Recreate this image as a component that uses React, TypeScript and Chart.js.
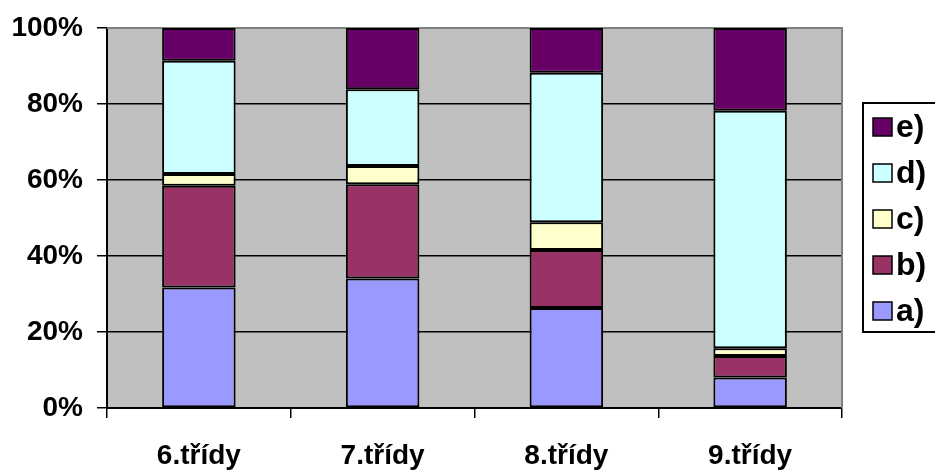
import React, { useEffect, useRef } from "react";
import { Chart, registerables } from "chart.js";

Chart.register(...registerables);

const categories = ["6.třídy", "7.třídy", "8.třídy", "9.třídy"];
const seriesLabels = ["a)", "b)", "c)", "d)", "e)"];
const valuesA = [31.7, 34.1, 26.3, 8.0];
const valuesB = [26.8, 24.8, 15.3, 5.7];
const valuesC = [3.1, 4.8, 7.3, 2.0];
const valuesD = [29.8, 20.2, 39.3, 62.5];
const valuesE = [8.6, 16.1, 11.8, 21.8];
const seriesColors = ["#9999FF", "#993366", "#FFFFCC", "#CCFFFF", "#660066"];
const yTicks = [0, 20, 40, 60, 80, 100];

const FONT = "'Liberation Sans', Arial, sans-serif";

const plotBg = {
  id: "plotBg",
  beforeDraw(chart: any) {
    const { ctx, chartArea } = chart;
    ctx.save();
    ctx.fillStyle = "#C0C0C0";
    ctx.fillRect(chartArea.left, chartArea.top, chartArea.right - chartArea.left, chartArea.bottom - chartArea.top);
    ctx.restore();
  },
  beforeDatasetsDraw(chart: any) {
    const { ctx, chartArea } = chart;
    ctx.save();
    ctx.strokeStyle = "#808080";
    ctx.lineWidth = 2;
    ctx.beginPath();
    ctx.moveTo(chartArea.left, chartArea.top);
    ctx.lineTo(chartArea.right, chartArea.top);
    ctx.lineTo(chartArea.right, chartArea.bottom);
    ctx.stroke();
    ctx.restore();
  },
};

const boxLegend = {
  id: "boxLegend",
  afterDraw(chart: any) {
    const { ctx, chartArea } = chart;
    const datasets = chart.data.datasets;
    const n = datasets.length;
    const spacing = 46;
    const boxLeft = chartArea.right + 21;
    const midY = (chartArea.top + chartArea.bottom) / 2;
    const boxTop = midY - 115;
    const boxBottom = midY + 114;
    ctx.save();
    ctx.strokeStyle = "#000";
    ctx.lineWidth = 2;
    ctx.strokeRect(boxLeft, boxTop, 200, boxBottom - boxTop);
    ctx.font = `bold 32px ${FONT}`;
    ctx.textBaseline = "middle";
    ctx.textAlign = "left";
    const firstY = midY - spacing * (n - 1) / 2 + 1;
    for (let i = 0; i < n; i++) {
      const ds = datasets[n - 1 - i];
      const cy = firstY + i * spacing;
      ctx.fillStyle = ds.backgroundColor;
      ctx.fillRect(boxLeft + 10, cy - 9, 19, 18);
      ctx.lineWidth = 1.5;
      ctx.strokeStyle = "#000";
      ctx.strokeRect(boxLeft + 10, cy - 9, 19, 18);
      ctx.fillStyle = "#000";
      ctx.fillText(ds.label, boxLeft + 33, cy + 1);
    }
    ctx.restore();
  },
};

export default function App() {
  const ref = useRef<HTMLCanvasElement>(null);
  useEffect(() => {
    document.body.style.margin = "0";
    const allValues = [valuesA, valuesB, valuesC, valuesD, valuesE];
    const chart = new Chart(ref.current!, {
      type: "bar",
      data: {
        labels: categories,
        datasets: seriesLabels.map((label, i) => ({
          label,
          data: allValues[i],
          backgroundColor: seriesColors[i],
          borderColor: "#000",
          borderWidth: 2,
          borderSkipped: false,
          barPercentage: 0.4,
          categoryPercentage: 1,
        })),
      },
      options: {
        responsive: false,
        animation: false,
        devicePixelRatio: 1,
        layout: { padding: { top: 28, right: 93, left: 0, bottom: 0 } },
        plugins: { legend: { display: false }, tooltip: { enabled: false } },
        scales: {
          x: {
            stacked: true,
            offset: true,
            grid: {
              drawOnChartArea: false,
              drawTicks: true,
              tickLength: 10,
              color: "#000",
              lineWidth: 1.5,
            },
            border: { color: "#000", width: 2 },
            ticks: {
              color: "#000",
              font: { family: FONT, size: 28, weight: "bold" },
              padding: 21,
              maxRotation: 0,
            },
            afterFit(scale: any) {
              scale.height = 65;
              scale.paddingLeft = 0;
              scale.paddingRight = 0;
            },
          },
          y: {
            stacked: true,
            min: 0,
            max: 100,
            grid: {
              color: (c: any) => (c.tick && c.tick.value === 100 ? "#808080" : "#000"),
              lineWidth: 1.5,
              tickLength: 10,
              tickColor: "#000",
            },
            border: { color: "#000", width: 2 },
            afterBuildTicks(scale: any) {
              scale.ticks = yTicks.map((v) => ({ value: v }));
            },
            ticks: {
              color: "#000",
              font: { family: FONT, size: 28, weight: "bold" },
              padding: 14,
              callback: (v: any) => `${v}%`,
            },
            afterFit(scale: any) {
              scale.width = 107;
              scale.paddingTop = 0;
              scale.paddingBottom = 0;
            },
          },
        },
      },
      plugins: [plotBg, boxLegend],
    });
    return () => chart.destroy();
  }, []);
  return (
    <div style={{ position: "absolute", left: 0, top: 0, width: 935, height: 473, background: "#fff" }}>
      <canvas ref={ref} width={935} height={473} />
    </div>
  );
}
